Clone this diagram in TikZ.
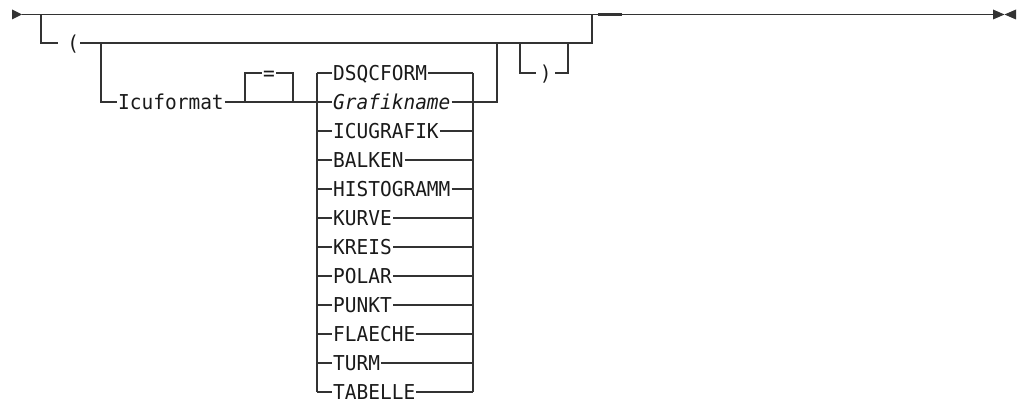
\documentclass[tikz,border=0pt]{standalone}
\usepackage{fontspec}
\newfontfamily\railfont[FakeStretch=0.95]{DejaVu Sans Mono}
\definecolor{railline}{HTML}{333333}
\definecolor{railtext}{HTML}{1A1A1A}
\tikzset{
  rail/.style={draw=railline, line width=1.5pt},
  kw/.style={font=\railfont\fontsize{20.5}{20.5}\selectfont, text=railtext, anchor=west,
    inner xsep=1pt, inner ysep=0pt, text height=14.9pt, text depth=0pt},
  tipmark/.style={fill=railline},
}

\begin{document}
\begin{tikzpicture}[x=1pt,y=-1pt]
\useasboundingbox (0,0) rectangle (1020,404);
\def\ytop{14.5}
\def\yopt{43}
\def\ymain{102}
\def\ytier{73}
\def\rowgap{29}

% Start and end marks
\coordinate (start) at (22,\ytop);
\coordinate (finish) at (993,\ytop);
\fill[tipmark] (12,\ytop-5) -- (start) -- (12,\ytop+5) -- cycle;
\fill[tipmark] (finish) ++(0,-5) -- (1004.5,\ytop) -- (993,\ytop+5) -- cycle;
\fill[tipmark] (1016,\ytop-5) -- (1004.5,\ytop) -- (1016,\ytop+5) -- cycle;
\draw[rail] (start) -- (finish);
\draw[railline, line width=2.4pt] (598,\ytop) -- (622,\ytop);

% Optional part in brackets
\coordinate (split0) at (41,\ytop);
\coordinate (merge0) at (592,\ytop);
\coordinate (join0) at (592,\yopt);
\node[kw, text width=20pt, align=right] (lpar) at (58,\yopt) {(};
\draw[rail] (split0) |- (lpar.west);
\draw[rail] (lpar.east) -- (join0) -- (merge0);

% Icuformat keyword with optional =
\coordinate (split1) at (101,\yopt);
\node[kw] (icu) at (117,\ymain) {Icuformat};
\draw[rail] (split1) |- (icu.west);
\coordinate (eqL) at (245,\ymain);
\coordinate (eqR) at (293,\ymain);
\node[kw] (eq) at (262,\ytier) {=};
\draw[rail] (eqL) |- (eq.west);
\draw[rail] (eq.east) -| (eqR);

% Choice of format
\foreach \kw [count=\i from 0] in {DSQCFORM,\textit{Grafikname},ICUGRAFIK,BALKEN,HISTOGRAMM,KURVE,KREIS,POLAR,PUNKT,FLAECHE,TURM,TABELLE} {
  \coordinate (in\i) at (317,\ytier+\i*\rowgap);
  \coordinate (out\i) at (473,\ytier+\i*\rowgap);
  \node[kw] (opt\i) at ([xshift=15pt]in\i) {\kw};
  \draw[rail] (in\i) -- (opt\i.west) (opt\i.east) -- (out\i);
}
\draw[rail] (in0) -- (in11);
\draw[rail] (out0) -- (out11);
\draw[rail] (icu.east) -- (in1);

% Back up and optional closing bracket
\coordinate (join1) at (497,\yopt);
\draw[rail] (out1) -| (join1);
\coordinate (split2) at (520,\yopt);
\coordinate (join2) at (568,\yopt);
\node[kw, minimum width=19pt] (rpar) at (536,\ytier) {)};
\draw[rail] (split2) |- (rpar.west);
\draw[rail] (rpar.east) -| (join2);
\end{tikzpicture}
\end{document}
